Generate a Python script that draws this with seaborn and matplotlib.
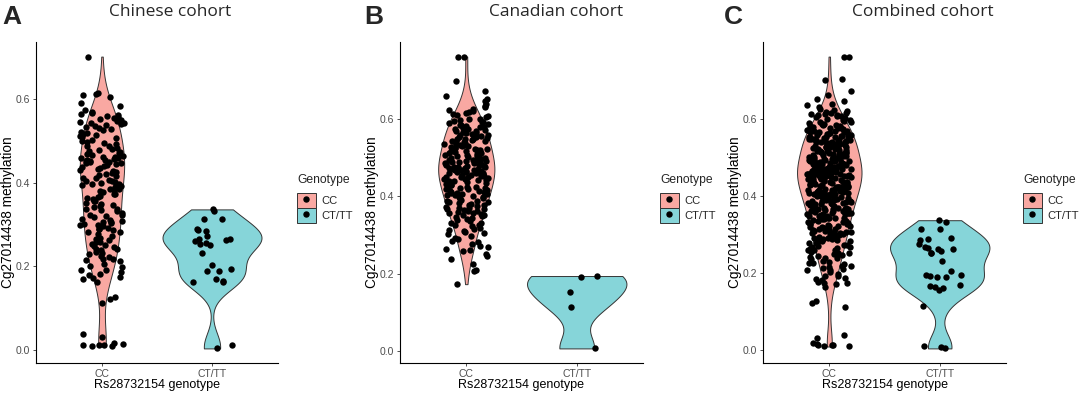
import numpy as np
import pandas as pd
import matplotlib
matplotlib.use("Agg")
import matplotlib.pyplot as plt
import seaborn as sns
from matplotlib.patches import Patch
from matplotlib.lines import Line2D

# ---------------- data ----------------
genotypes = ["CC", "CT/TT"]
panel_titles = ["Chinese cohort", "Canadian cohort", "Combined cohort"]
panel_letters = ["A", "B", "C"]
y_ticks = [0.0, 0.2, 0.4, 0.6]
y_tick_labels = ["0.0", "0.2", "0.4", "0.6"]

chinese_cc = [
    0.037, 0.016, 0.012, 0.008, 0.014, 0.012, 0.030, 0.012, 0.008,
    0.111, 0.122, 0.126,
    0.163, 0.170, 0.172, 0.175, 0.180, 0.182, 0.185, 0.190, 0.191, 0.197,
    0.201, 0.206, 0.212, 0.215, 0.216, 0.218, 0.221, 0.224, 0.228, 0.231,
    0.235, 0.238, 0.240, 0.242, 0.245, 0.248,
    0.251, 0.254, 0.258, 0.259, 0.263, 0.266, 0.267, 0.272, 0.278, 0.281,
    0.283, 0.287, 0.288, 0.290, 0.292, 0.296, 0.298, 0.299,
    0.301, 0.303, 0.305, 0.306, 0.309, 0.311, 0.314, 0.318, 0.320, 0.322,
    0.323, 0.327, 0.331, 0.334, 0.336, 0.338, 0.341, 0.343, 0.346, 0.349,
    0.352, 0.355, 0.356, 0.361, 0.364, 0.366, 0.369, 0.372, 0.374, 0.378,
    0.381, 0.383, 0.385, 0.386, 0.389, 0.392, 0.394, 0.396, 0.398, 0.399,
    0.401, 0.403, 0.405, 0.407, 0.410, 0.412, 0.415, 0.418, 0.421, 0.423,
    0.426, 0.428, 0.431, 0.433, 0.436, 0.438, 0.440, 0.442, 0.444, 0.446,
    0.447, 0.449,
    0.450, 0.451, 0.452, 0.454, 0.455, 0.457, 0.458, 0.460, 0.461, 0.462,
    0.464, 0.466, 0.468, 0.470, 0.473, 0.476, 0.479, 0.481, 0.484, 0.487,
    0.489, 0.492, 0.495, 0.498,
    0.501, 0.503, 0.506, 0.509, 0.511, 0.514, 0.517, 0.520, 0.522, 0.525,
    0.528, 0.531, 0.533, 0.536, 0.538, 0.540, 0.542, 0.544, 0.546, 0.548,
    0.551, 0.553, 0.555, 0.557, 0.559, 0.562, 0.564, 0.567, 0.570, 0.575,
    0.583, 0.592,
    0.606, 0.609, 0.613, 0.615,
    0.702,
]

chinese_ct = [
    0.336, 0.332, 0.313, 0.312, 0.290, 0.286, 0.284, 0.273, 0.266, 0.265,
    0.262, 0.261, 0.255, 0.252, 0.250, 0.231, 0.203, 0.193, 0.189, 0.188,
    0.169, 0.165, 0.163, 0.161, 0.010, 0.003,
]

canadian_cc = [
    0.173,
    0.207, 0.210, 0.226, 0.238, 0.247,
    0.252, 0.258, 0.261, 0.264, 0.268, 0.272, 0.276, 0.281, 0.285, 0.289,
    0.293, 0.297,
    0.302, 0.305, 0.308, 0.311, 0.313, 0.316, 0.319, 0.322, 0.325, 0.327,
    0.330, 0.332, 0.335, 0.338, 0.341, 0.343, 0.346, 0.348,
    0.351, 0.352, 0.354, 0.356, 0.357, 0.359, 0.361, 0.363, 0.364, 0.366,
    0.368, 0.369, 0.371, 0.373, 0.375, 0.377, 0.378, 0.380, 0.382, 0.384,
    0.386, 0.387, 0.389, 0.391, 0.393, 0.395, 0.397, 0.399,
    0.400, 0.401, 0.403, 0.404, 0.405, 0.407, 0.408, 0.409, 0.411, 0.412,
    0.414, 0.415, 0.416, 0.418, 0.419, 0.421, 0.422, 0.423, 0.425, 0.426,
    0.428, 0.429, 0.430, 0.432, 0.433, 0.435, 0.436, 0.437, 0.439, 0.440,
    0.442, 0.443, 0.445, 0.446, 0.448, 0.449,
    0.450, 0.451, 0.452, 0.453, 0.454, 0.456, 0.457, 0.458, 0.459, 0.460,
    0.461, 0.462, 0.463, 0.465, 0.466, 0.467, 0.468, 0.469, 0.470, 0.471,
    0.472, 0.474, 0.475, 0.476, 0.477, 0.478, 0.479, 0.480, 0.482, 0.483,
    0.484, 0.485, 0.486, 0.488, 0.489, 0.490, 0.491, 0.493, 0.494, 0.495,
    0.497, 0.499,
    0.500, 0.502, 0.503, 0.504, 0.506, 0.507, 0.508, 0.510, 0.511, 0.512,
    0.514, 0.515, 0.516, 0.518, 0.519, 0.520, 0.522, 0.523, 0.525, 0.526,
    0.527, 0.529, 0.530, 0.532, 0.533, 0.535, 0.536, 0.538, 0.539, 0.541,
    0.542, 0.544, 0.545, 0.547, 0.548, 0.549,
    0.551, 0.553, 0.554, 0.556, 0.558, 0.559, 0.561, 0.563, 0.564, 0.566,
    0.568, 0.569, 0.571, 0.573, 0.575, 0.576, 0.578, 0.580, 0.582, 0.583,
    0.585, 0.587, 0.589, 0.591, 0.593, 0.595, 0.597, 0.599,
    0.601, 0.604, 0.607, 0.609, 0.612, 0.614, 0.617, 0.620, 0.623, 0.626,
    0.630, 0.634, 0.639, 0.645,
    0.652, 0.660, 0.672, 0.699,
    0.760, 0.761,
]

canadian_ct = [0.194, 0.192, 0.154, 0.114, 0.007]

# ---------------- style ----------------
fill_colors = {"CC": "#F9A8A2", "CT/TT": "#86D5D9"}
outline = "#333333"
tick_grey = "#4D4D4D"

sns.set_theme(style="white")
plt.rcParams["font.family"] = ["Liberation Sans", "DejaVu Sans"]


def nrd0(kde):
    d = np.asarray(kde.dataset).ravel()
    sd = np.std(d, ddof=1)
    q75, q25 = np.percentile(d, [75, 25])
    lo = min(sd, (q75 - q25) / 1.34)
    if lo <= 0:
        lo = sd
    return 0.9 * lo * len(d) ** (-0.2) / sd


def make_df(cc, ct):
    return pd.DataFrame({
        "genotype": ["CC"] * len(cc) + ["CT/TT"] * len(ct),
        "value": list(cc) + list(ct),
    })


panels = [
    make_df(chinese_cc, chinese_ct),
    make_df(canadian_cc, canadian_ct),
    make_df(chinese_cc + canadian_cc, chinese_ct + canadian_ct),
]

W, H = 1080, 396
fig = plt.figure(figsize=(W / 100, H / 100), dpi=100)

ax_px = [(36, 278), (400, 643), (763, 1006)]
top_px, bot_px = 42, 363
title_x = [170, 556, 923]
letter_x = [2, 364, 724]
legend_x = [297, 660, 1023]

np.random.seed(7)
for i, df in enumerate(panels):
    l, r = ax_px[i]
    ax = fig.add_axes([l / W, 1 - bot_px / H, (r - l) / W, (bot_px - top_px) / H])
    sns.violinplot(
        data=df, x="genotype", y="value", hue="genotype", order=genotypes,
        hue_order=genotypes, palette=fill_colors, cut=0, density_norm="area",
        common_norm=True, width=0.9, inner=None, linewidth=0.7,
        linecolor=outline, bw_method=nrd0, saturation=1, legend=False, ax=ax,
    )
    sns.stripplot(
        data=df, x="genotype", y="value", order=genotypes, color="black",
        jitter=0.2, size=4.6, linewidth=0, ax=ax,
    )
    vmin, vmax = df["value"].min(), df["value"].max()
    rng = vmax - vmin
    ax.set_ylim(vmin - 0.05 * rng, vmax + 0.05 * rng)
    ax.set_xlim(-0.6, 1.6)
    ax.set_yticks(y_ticks)
    ax.set_yticklabels(y_tick_labels)
    for s in ["top", "right"]:
        ax.spines[s].set_visible(False)
    for s in ["left", "bottom"]:
        ax.spines[s].set_color("black")
        ax.spines[s].set_linewidth(0.8)
    ax.tick_params(axis="both", which="both", length=2.5, width=0.6,
                   color="#333333", labelcolor=tick_grey, labelsize=7.5,
                   pad=2, left=True, bottom=True)
    ax.set_xlabel("Rs28732154 genotype", fontsize=9, color="black")
    ax.xaxis.set_label_coords(0.5, -0.068)
    ax.xaxis.label.set_verticalalignment("center")
    ax.set_ylabel("Cg27014438 methylation", fontsize=9.8, color="black")
    ax.yaxis.set_label_coords(-0.115, 0.47)
    ax.yaxis.label.set_verticalalignment("center")

    fig.text(title_x[i] / W, 1 - 12 / H, panel_titles[i], ha="center",
             va="center", fontsize=12.5, family=["Open Sans", "DejaVu Sans"])
    fig.text(letter_x[i] / W, 1 - 17 / H, panel_letters[i], ha="left",
             va="center", fontsize=19, fontweight="bold")

    handles = [
        (Patch(facecolor=fill_colors[g], edgecolor=outline, linewidth=0.7),
         Line2D([], [], marker="o", color="black", linestyle="none",
                markersize=3.6))
        for g in genotypes
    ]
    leg = fig.legend(
        handles, genotypes, title="Genotype", loc="upper left",
        bbox_to_anchor=(legend_x[i] / W, 1 - 174 / H), frameon=False,
        fontsize=8, title_fontsize=8.7, handlelength=1.7,
        handleheight=1.7, labelspacing=0.0, handletextpad=0.5,
        borderpad=0, borderaxespad=0, alignment="left",
    )
    leg._legend_box.sep = 5

fig.savefig("out.png", dpi=100)
